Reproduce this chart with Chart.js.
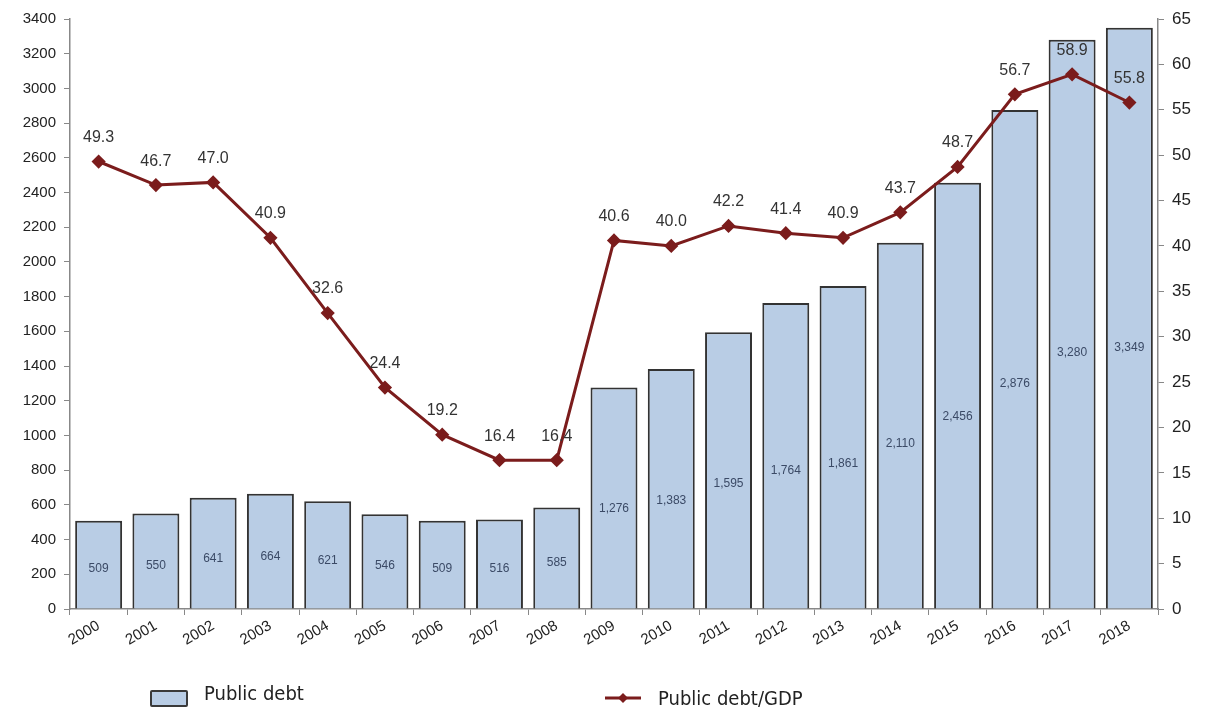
<!DOCTYPE html>
<html>
<head>
<meta charset="utf-8">
<script src="https://cdn.jsdelivr.net/npm/chart.js@4"></script>
<style>
  html, body { margin: 0; padding: 0; background: #fff; }
  #wrap { position: relative; width: 1206px; height: 716px; }
  .legend { position: absolute; font-family: "DejaVu Sans Condensed", "DejaVu Sans", sans-serif; font-size: 20px; color: #222; display: flex; align-items: center; }
  .box { width: 34px; height: 13px; background: #b9cde5; border: 2px solid #3a3a3a; border-radius: 2px; margin-right: 16px; margin-top: 12px; }
</style>
</head>
<body>
<div id="wrap">
  <canvas id="chart" width="1206" height="716"></canvas>
  <div class="legend" style="left:150px; top:678px;"><span class="box"></span>Public debt</div>
  <div class="legend" style="left:604px; top:686px;">
    <svg width="40" height="16" style="margin-right:14px"><line x1="1" y1="8" x2="37" y2="8" stroke="#7b1c1c" stroke-width="3"/><path d="M19 3 L24 8 L19 13 L14 8 Z" fill="#7b1c1c"/></svg>Public debt/GDP
  </div>
</div>
<script>
const years = ["2000","2001","2002","2003","2004","2005","2006","2007","2008","2009",
  "2010","2011","2012","2013","2014","2015","2016","2017","2018"];
const publicDebt = [509, 550, 641, 664, 621, 546, 509, 516, 585, 1276,
  1383, 1595, 1764, 1861, 2110, 2456, 2876, 3280, 3349];
const debtToGdp = [49.3, 46.7, 47.0, 40.9, 32.6, 24.4, 19.2, 16.4, 16.4, 40.6,
  40.0, 42.2, 41.4, 40.9, 43.7, 48.7, 56.7, 58.9, 55.8];

const font = "'Liberation Sans', Arial, sans-serif";

// value labels: inside bars and above line points
const valueLabels = {
  id: "valueLabels",
  afterDatasetsDraw(chart) {
    const ctx = chart.ctx;
    ctx.save();
    ctx.textAlign = "center";
    ctx.textBaseline = "middle";

    const bars = chart.getDatasetMeta(0).data;
    ctx.font = "12px " + font;
    ctx.fillStyle = "#3b4a66";
    bars.forEach((bar, i) => {
      const y = bar.y + (bar.base - bar.y) * 0.55;
      ctx.fillText(publicDebt[i].toLocaleString("en-US"), bar.x, Math.min(y, bar.base - 28));
    });

    const pts = chart.getDatasetMeta(1).data;
    ctx.font = "16px " + font;
    ctx.fillStyle = "#333";
    pts.forEach((p, i) => {
      ctx.fillText(debtToGdp[i].toFixed(1), p.x, p.y - 24);
    });
    ctx.restore();
  }
};

new Chart(document.getElementById("chart"), {
  data: {
    labels: years,
    datasets: [
      {
        type: "bar",
        label: "Public debt",
        data: publicDebt,
        yAxisID: "y",
        backgroundColor: "#b9cde5",
        borderColor: "#333",
        borderWidth: 2,
        categoryPercentage: 0.82,
        barPercentage: 1.0,
        order: 1
      },
      {
        type: "line",
        label: "Public debt/GDP",
        data: debtToGdp,
        yAxisID: "y1",
        borderColor: "#7b1c1c",
        backgroundColor: "#7b1c1c",
        borderWidth: 3,
        pointStyle: "rectRot",
        pointRadius: 5,
        tension: 0,
        order: 0
      }
    ]
  },
  options: {
    responsive: false,
    animation: false,
    layout: { padding: { top: 19, left: 0, right: 0, bottom: 0 } },
    plugins: { legend: { display: false }, tooltip: { enabled: false } },
    scales: {
      x: {
        grid: { offset: true, drawOnChartArea: false, color: "#888", tickLength: 6 },
        border: { color: "#888", width: 1.5 },
        ticks: {
          minRotation: 30, maxRotation: 30, color: "#222", padding: 2,
          font: { family: font, size: 15 }
        },
        afterFit(scale) { scale.height = 107; }
      },
      y: {
        position: "left",
        min: 0, max: 3400,
        ticks: {
          stepSize: 200, color: "#222", padding: 8,
          font: { family: font, size: 15 },
          callback: (v) => String(v)
        },
        grid: { drawOnChartArea: false, color: "#888", tickLength: 6 },
        border: { color: "#888", width: 1.5 },
        afterFit(scale) { scale.width = 70; }
      },
      y1: {
        position: "right",
        min: 0, max: 65,
        ticks: {
          stepSize: 5, color: "#222", padding: 8,
          font: { family: font, size: 17 }
        },
        grid: { drawOnChartArea: false, color: "#888", tickLength: 6 },
        border: { color: "#888", width: 1.5 },
        afterFit(scale) { scale.width = 48; }
      }
    }
  },
  plugins: [valueLabels]
});
</script>
</body>
</html>
